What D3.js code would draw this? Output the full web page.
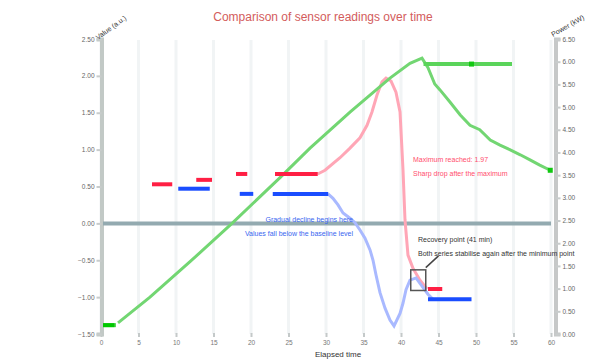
<!DOCTYPE html>
<html>
<head>
<meta charset="utf-8">
<script src="https://cdn.jsdelivr.net/npm/d3@7"></script>
<style>
  body { margin: 0; background: #fff; }
  svg { display: block; font-family: "Liberation Sans", Arial, sans-serif; }
</style>
</head>
<body>
<div id="chart"></div>
<script>
// tick labels
const xTicks = [0, 5, 10, 15, 20, 25, 30, 35, 40, 45, 50, 55, 60];
const leftTicks = [-1.5, -1.0, -0.5, 0.0, 0.5, 1.0, 1.5, 2.0, 2.5];
const rightTicks = [0, 0.5, 1.0, 1.5, 2.0, 2.5, 3.0, 3.5, 4.0, 4.5, 5.0, 5.5, 6.0, 6.5];
const baseline = 0;

// green series (rise then decay)
const greenX = [2.27, 6.53, 11.87, 17.47, 23.87, 27.87, 33.2, 38.53, 41.2, 42.8, 43.6, 44.5, 45.2, 46.5, 47.9, 49.2, 50.5, 51.9, 53.2, 54.5, 55.9, 57.2, 58.5, 59.9];
const greenY = [-1.35, -1.0, -0.52, 0.0, 0.62, 1.02, 1.51, 1.97, 2.17, 2.24, 2.11, 1.89, 1.81, 1.65, 1.47, 1.33, 1.27, 1.13, 1.06, 1.0, 0.93, 0.86, 0.79, 0.72];
const greenSegStart = [0.27, 43.0];
const greenSegEnd = [2.0, 54.8];
const greenSegY = [-1.38, 2.16];
const greenMarkX = [49.4, 59.9];
const greenMarkY = [2.16, 0.72];

// red / pink series
const redSegStart = [6.8, 12.7, 18.0, 23.2, 43.6];
const redSegEnd = [9.5, 14.8, 19.5, 28.9, 45.5];
const redSegY = [0.53, 0.59, 0.67, 0.67, -0.89];
const pinkX = [28.9, 29.87, 31.87, 33.2, 34.53, 35.47, 36.13, 36.8, 37.47, 38.0, 38.67, 39.33, 39.87, 40.27, 40.53, 40.93, 41.6, 42.53, 43.47];
const pinkY = [0.67, 0.72, 0.89, 1.02, 1.16, 1.33, 1.51, 1.74, 1.92, 1.97, 1.93, 1.78, 1.51, 0.72, 0.05, -0.43, -0.61, -0.77, -0.89];

// blue series
const blueSegStart = [10.3, 18.5, 22.9, 43.6];
const blueSegEnd = [14.5, 20.3, 30.3, 49.4];
const blueSegY = [0.47, 0.40, 0.40, -1.03];
const lightBlueX = [30.27, 30.93, 31.6, 32.27, 33.2, 33.87, 34.53, 35.2, 35.87, 36.27, 36.67, 37.2, 37.87, 38.53, 39.07, 39.87, 40.27, 40.67, 41.2, 42.0, 42.8, 43.6, 44.27];
const lightBlueY = [0.40, 0.34, 0.25, 0.14, 0.07, 0.01, -0.09, -0.20, -0.36, -0.50, -0.70, -0.94, -1.15, -1.31, -1.39, -1.22, -1.08, -0.90, -0.77, -0.74, -0.85, -0.96, -1.03];

const title = "Comparison of sensor readings over time";
const xTitle = "Elapsed time";
const leftTitle = "Value (a.u.)";
const rightTitle = "Power (kW)";
const pinkNotes = ["Maximum reached: 1.97", "Sharp drop after the maximum"];
const blueNotes = ["Gradual decline begins here", "Values fall below the baseline level"];
const darkNotes = ["Recovery point (41 min)", "Both series stabilise again after the minimum point"];

const W = 596, H = 362;
const svg = d3.select("#chart").append("svg")
    .attr("width", W)
    .attr("height", H);

const x = d3.scaleLinear().domain([0, 60]).range([101, 551]);
const yL = d3.scaleLinear().domain([-1.5, 2.5]).range([334, 39]);
const yR = d3.scaleLinear().domain([0, 6.5]).range([334, 39]);

// vertical grid
svg.append("g").selectAll("line")
    .data(xTicks)
    .join("line")
    .attr("x1", d => x(d)).attr("x2", d => x(d))
    .attr("y1", 40).attr("y2", 334)
    .attr("stroke", "#f1f4f5")
    .attr("stroke-width", 3);

// x axis (ticks + labels, no domain line)
const xAxis = svg.append("g")
    .attr("transform", "translate(0,333)")
    .call(d3.axisBottom(x).tickValues(xTicks).tickSize(4).tickPadding(3).tickFormat(d3.format("d")));
xAxis.select(".domain").remove();
xAxis.selectAll("line").attr("stroke", "#c4c9c9").attr("stroke-width", 2);
xAxis.selectAll("text").attr("fill", "#777").style("font-size", "6.5px");

// left axis
const lAxis = svg.append("g")
    .attr("transform", "translate(101.5,0)")
    .call(d3.axisLeft(yL).tickValues(leftTicks).tickSize(5).tickPadding(2).tickFormat(d3.format(".2f")));
lAxis.select(".domain").attr("stroke", "#c2c9c6").attr("stroke-width", 4);
lAxis.selectAll(".tick line").attr("stroke", "#c8cccc").attr("stroke-width", 2);
lAxis.selectAll("text").attr("fill", "#666").style("font-size", "6.5px");

// right axis
const rAxis = svg.append("g")
    .attr("transform", "translate(555.5,0)")
    .call(d3.axisRight(yR).tickValues(rightTicks).tickSize(5).tickPadding(2).tickFormat(d3.format(".2f")));
rAxis.select(".domain").attr("stroke", "#c6c8c8").attr("stroke-width", 4);
rAxis.selectAll(".tick line").attr("stroke", "#c8cccc").attr("stroke-width", 2);
rAxis.selectAll("text").attr("fill", "#666").style("font-size", "6.5px");

// baseline reference
svg.append("line")
    .attr("x1", x(0) + 2).attr("x2", x(60))
    .attr("y1", yL(baseline)).attr("y2", yL(baseline))
    .attr("stroke", "#93aab0")
    .attr("stroke-width", 4);

const line = d3.line().x(d => x(d[0])).y(d => yL(d[1]));

function segments(starts, ends, ys, color, width) {
    svg.append("g").selectAll("line")
        .data(starts.map((s, i) => [s, ends[i], ys[i]]))
        .join("line")
        .attr("x1", d => x(d[0])).attr("x2", d => x(d[1]))
        .attr("y1", d => yL(d[2])).attr("y2", d => yL(d[2]))
        .attr("stroke", color)
        .attr("stroke-width", width);
}

// pink line
svg.append("path")
    .datum(pinkX.map((v, i) => [v, pinkY[i]]))
    .attr("fill", "none")
    .attr("stroke", "#ffa6b6")
    .attr("stroke-width", 3)
    .attr("d", line);

// light blue line
svg.append("path")
    .datum(lightBlueX.map((v, i) => [v, lightBlueY[i]]))
    .attr("fill", "none")
    .attr("stroke", "#a9b9ff")
    .attr("stroke-width", 3)
    .attr("d", line);

// green line
svg.append("path")
    .datum(greenX.map((v, i) => [v, greenY[i]]))
    .attr("fill", "none")
    .attr("stroke", "#72d672")
    .attr("stroke-width", 3)
    .attr("d", line);

segments(redSegStart, redSegEnd, redSegY, "#ff1f44", 4);
segments(blueSegStart, blueSegEnd, blueSegY, "#1a4dff", 4);
segments(greenSegStart, greenSegEnd, greenSegY, "#5ad45a", 4);
svg.append("line")
    .attr("x1", x(greenSegStart[0])).attr("x2", x(1.8))
    .attr("y1", yL(greenSegY[0])).attr("y2", yL(greenSegY[0]))
    .attr("stroke", "#00c800").attr("stroke-width", 4);

svg.append("g").selectAll("rect")
    .data(greenMarkX.map((v, i) => [v, greenMarkY[i]]))
    .join("rect")
    .attr("x", d => x(d[0]) - 2.5).attr("y", d => yL(d[1]) - 2.5)
    .attr("width", 5).attr("height", 5)
    .attr("fill", "#11c811");

// callout box + leader
svg.append("rect")
    .attr("x", x(41.3)).attr("y", yL(-0.63))
    .attr("width", x(43.3) - x(41.3)).attr("height", yL(-0.91) - yL(-0.63))
    .attr("fill", "none")
    .attr("stroke", "#555")
    .attr("stroke-width", 1.5);
svg.append("line")
    .attr("x1", x(43.3)).attr("y1", yL(-0.6))
    .attr("x2", x(45.0)).attr("y2", yL(-0.44))
    .attr("stroke", "#444").attr("stroke-width", 1.5);

// notes
function notes(lines, px, py, anchor, color) {
    svg.append("g").selectAll("text")
        .data(lines)
        .join("text")
        .attr("x", px)
        .attr("y", (d, i) => py + i * 13.5)
        .attr("text-anchor", anchor)
        .attr("fill", color)
        .style("font-size", "7px")
        .text(d => d);
}
notes(pinkNotes, 413, 162, "start", "#ff4d6d");
notes(blueNotes, 353, 222, "end", "#3a66f0");
notes(darkNotes, 418, 242, "start", "#333");

// titles
svg.append("text")
    .attr("x", 323).attr("y", 21)
    .attr("text-anchor", "middle")
    .attr("fill", "#d35c5c")
    .style("font-size", "12px")
    .text(title);

svg.append("text")
    .attr("x", 338).attr("y", 357)
    .attr("text-anchor", "middle")
    .attr("fill", "#333")
    .style("font-size", "8px")
    .text(xTitle);

svg.append("text")
    .attr("transform", "translate(98,40) rotate(-36)")
    .attr("fill", "#333")
    .style("font-size", "7px")
    .text(leftTitle);

svg.append("text")
    .attr("transform", "translate(553,37) rotate(-30)")
    .attr("fill", "#333")
    .style("font-size", "7px")
    .text(rightTitle);
</script>
</body>
</html>
